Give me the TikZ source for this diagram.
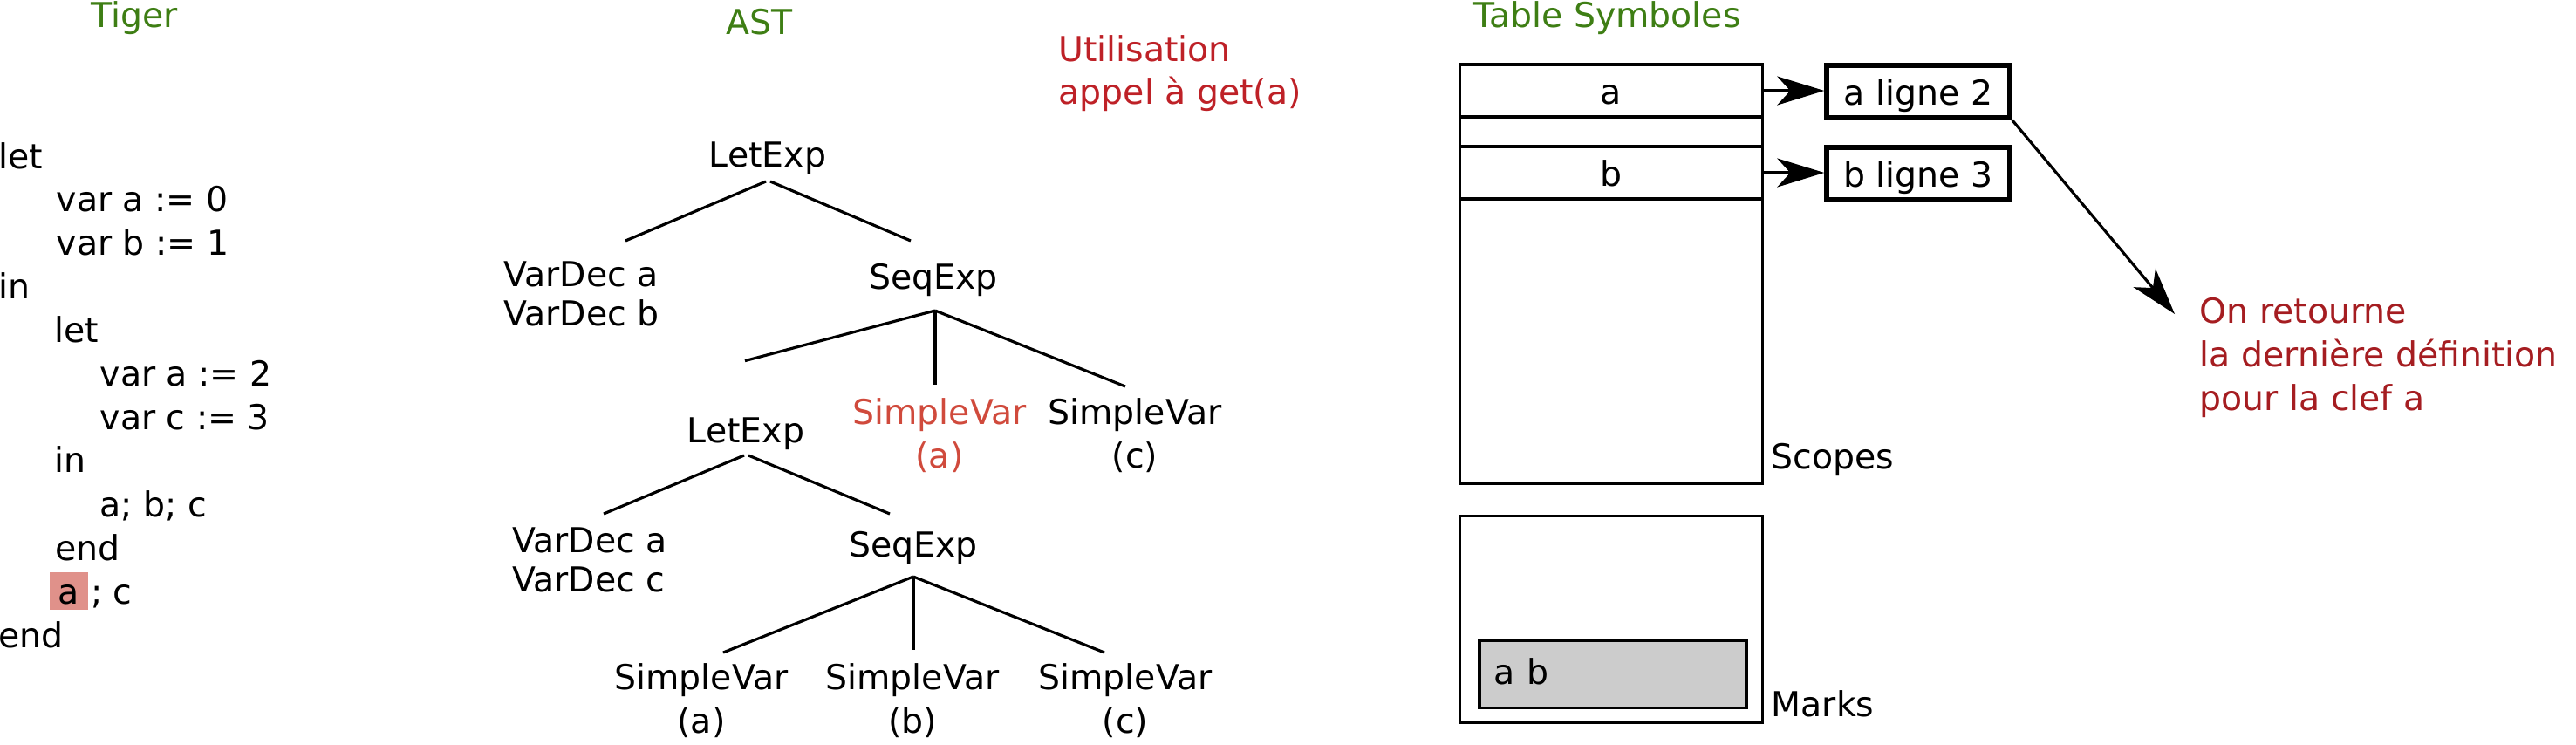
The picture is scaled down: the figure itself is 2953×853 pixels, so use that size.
\documentclass[tikz,border=0pt]{standalone}
\usepackage{fontspec}
\setmainfont{DejaVu Sans}
\usetikzlibrary{arrows.meta,calc}
\definecolor{titleGreen}{RGB}{62,126,20}
\definecolor{noteRed}{RGB}{190,33,39}
\definecolor{retRed}{RGB}{165,29,33}
\definecolor{useRed}{RGB}{208,74,60}
\definecolor{hlRed}{RGB}{224,145,138}
\definecolor{markGray}{RGB}{204,204,204}

\begin{document}
\begin{tikzpicture}
[x=0.01cm,y=-0.01cm,
 every node/.style={inner sep=0,font=\fontsize{11.2}{14.2}\selectfont},
 code/.style={anchor=base west},
 title/.style={anchor=base west,text=titleGreen},
 ast/.style={anchor=base},
 astml/.style={anchor=north,align=center},
 vardec/.style={anchor=north west,align=left,font=\fontsize{11.2}{12.8}\selectfont},
 note/.style={anchor=north west,align=left},
 link/.style={line width=0.9pt},
 cell/.style={draw,line width=0.9pt,minimum width=3.46cm,minimum height=0.6cm,text height=0.3cm,text depth=0cm},
 entry/.style={draw,line width=1.5pt,minimum width=2.1cm,minimum height=0.6cm,text height=0.3cm,text depth=0cm},
 ptr/.style={line width=0.9pt,-{Stealth[length=5.4mm,width=3.3mm,inset=1.5mm]}}]
  \useasboundingbox (0,0) rectangle (2953,853);

  \node[title] (tiger) at (104,31) {Tiger};
  \node[title] (ast) at (832,39) {AST};
  \node[title] (table) at (1689,31) {Table Symboles};

  \node[code] (c1) at (-2,193) {let};
  \node[code] (c2) at (64,242) {var a := 0};
  \node[code] (c3) at (64,292) {var b := 1};
  \node[code] (c4) at (-2,342) {in};
  \node[code] (c5) at (62,392) {let};
  \node[code] (c6) at (114,442) {var a := 2};
  \node[code] (c7) at (114,492) {var c := 3};
  \node[code] (c8) at (62,541) {in};
  \node[code] (c9) at (114,592) {a; b; c};
  \node[code] (c10) at (63,642) {end};
  \node[code,fill=hlRed,minimum width=0.44cm,text height=0.36cm,text depth=0.07cm] (use) at (56,692) {a};
  \node[code] (c11) at ($(use.base east)+(2,0)$) {; c};
  \node[code] (c12) at (-2,742) {end};

  \node[note,text=noteRed,font=\fontsize{11.2}{13.9}\selectfont] (get) at (1213,40) {Utilisation\\appel à get(a)};

  \node[ast] (let1) at (880,191) {LetExp};
  \node[vardec] (vd1) at (577,299) {VarDec a\\VarDec b};
  \node[ast] (seq1) at (1070,331) {SeqExp};
  \node[ast] (let2) at (855,507) {LetExp};
  \node[astml,text=useRed] (sva) at (1077,456) {SimpleVar\\(a)};
  \node[astml] (svc) at (1301,456) {SimpleVar\\(c)};
  \node[vardec] (vd2) at (587,604) {VarDec a\\VarDec c};
  \node[ast] (seq2) at (1047,638) {SeqExp};
  \node[astml] (sv1) at (804,760) {SimpleVar\\(a)};
  \node[astml] (sv2) at (1046,760) {SimpleVar\\(b)};
  \node[astml] (sv3) at (1290,760) {SimpleVar\\(c)};

  \draw[link] ($(let1.base)+(-2,17)$) -- ($(vd1.north west)+(140,-23)$);
  \draw[link] ($(let1.base)+(3,17)$) -- ($(seq1.base)+(-26,-55)$);
  \foreach \child/\dx/\dy in {let2/-1/-64, sva/-5/-15, svc/-11/-13}
    \draw[link] ($(seq1.base)+(2,25)$) -- ($(\child.north)+(\dx,\dy)$);
  \draw[link] ($(let2.base)+(-2,15)$) -- ($(vd2.north west)+(105,-15)$);
  \draw[link] ($(let2.base)+(3,15)$) -- ($(seq2.base)+(-27,-49)$);
  \foreach \child/\dx/\dy in {sv1/25/-12, sv2/1/-15, sv3/-24/-12}
    \draw[link] ($(seq2.base)+(0,23)$) -- ($(\child.north)+(\dx,\dy)$);

  \node[cell] (ka) at (1847,104) {a};
  \node[cell,minimum height=0.34cm] (kgap) at (1847,151) {};
  \node[cell] (kb) at (1847,198) {b};
  \node[draw,line width=0.9pt,minimum width=3.46cm,minimum height=4.8cm] (scopes) at (1847,314) {};
  \node[code] (lscopes) at (2030,537) {Scopes};

  \node[entry] (la) at (2199,105) {a ligne 2};
  \node[entry] (lb) at (2199,199) {b ligne 3};
  \draw[ptr] (ka.east) -- (ka.east -| la.west);
  \draw[ptr] (kb.east) -- (kb.east -| lb.west);

  \node[note,text=retRed] (ret) at (2521,341) {On retourne\\la dernière définition\\pour la clef a};
  \draw[ptr] (la.south east) -- ($(ret.north west)+(-28,19)$);

  \node[draw,line width=0.9pt,minimum width=3.46cm,minimum height=2.37cm] (marks) at (1847,710) {};
  \node[draw,fill=markGray,line width=1.1pt,minimum width=3.06cm,minimum height=0.77cm,text width=2.72cm,align=left,inner xsep=0.17cm,text height=0.3cm,text depth=0.07cm] (mk) at (1849,773) {a b};
  \node[code] (lmarks) at (2030,821) {Marks};

\end{tikzpicture}
\end{document}
